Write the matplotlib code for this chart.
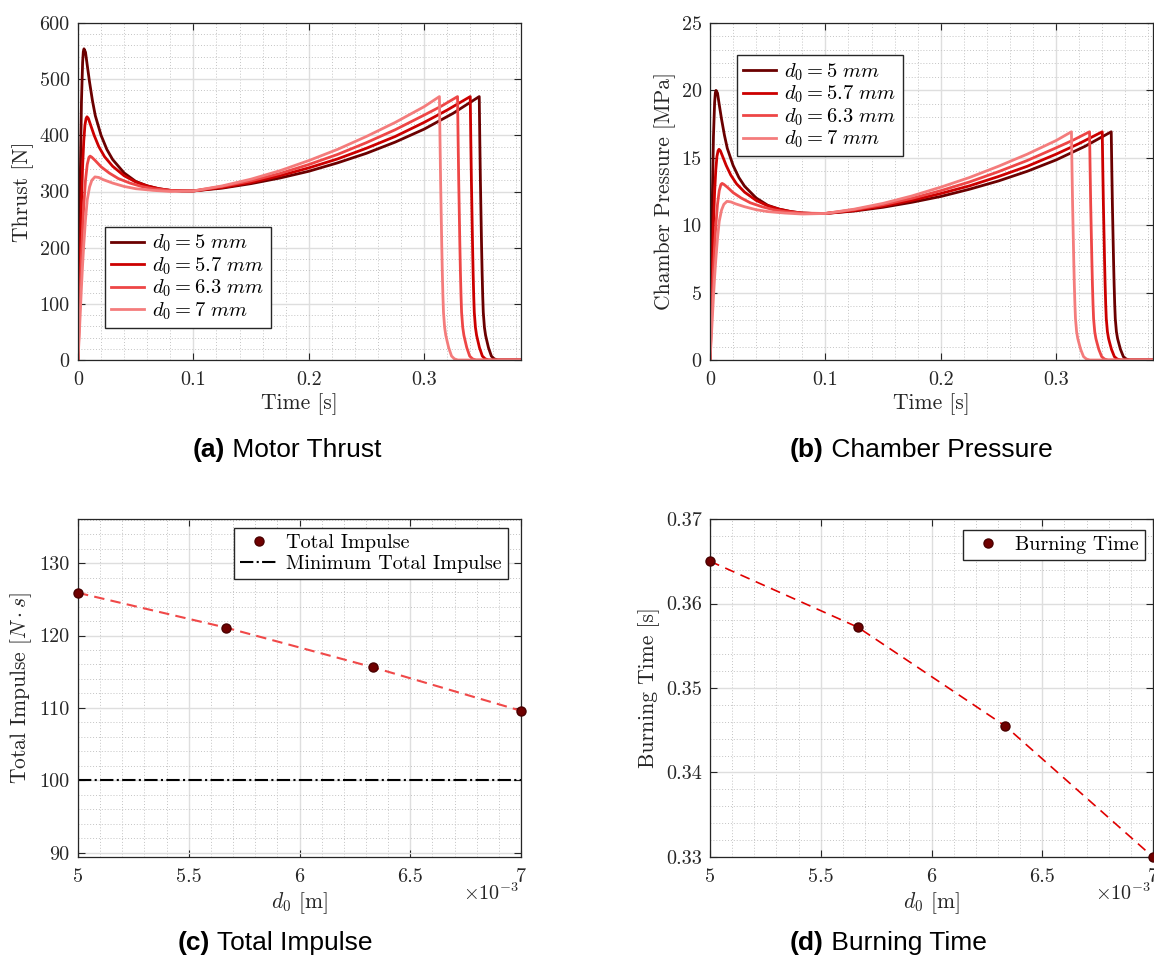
import matplotlib
matplotlib.use('Agg')
import matplotlib.pyplot as plt
from matplotlib.ticker import AutoMinorLocator, FuncFormatter

plt.rcParams['font.family'] = 'serif'
plt.rcParams['font.serif'] = ['cmr10']
plt.rcParams['mathtext.fontset'] = 'cm'
plt.rcParams['axes.formatter.use_mathtext'] = True

# ---- data ----
diameters = ['5', '5.7', '6.3', '7']
line_colors = ['#6b0000', '#cc0000', '#ee4646', '#f47c7c']
t_final = 0.384

# burn phase (up to the end of the web burn)
t_5 = [0, 0.0005, 0.001, 0.002, 0.003, 0.004, 0.0046, 0.0052, 0.0065, 0.008, 0.01, 0.0125,
       0.015, 0.02, 0.025, 0.03, 0.04, 0.05, 0.06, 0.07, 0.08, 0.09, 0.1, 0.125, 0.15, 0.175,
       0.2, 0.225, 0.25, 0.275, 0.3, 0.325, 0.3478]
thrust_5 = [0, 60, 150, 330, 460, 530, 549, 554, 548, 525, 495, 462, 435, 400, 375, 357, 333,
            318, 310, 305, 302, 301, 301, 306, 314, 324, 336, 351, 368, 388, 411, 439, 469]
pressure_5 = [0, 2.17, 5.42, 11.9, 16.6, 19.1, 19.8, 20.0, 19.8, 18.95, 17.87, 16.68, 15.7,
              14.44, 13.54, 12.89, 12.02, 11.48, 11.19, 11.01, 10.9, 10.87, 10.87, 11.05,
              11.33, 11.7, 12.13, 12.67, 13.28, 14.0, 14.84, 15.85, 16.93]

t_57 = [0, 0.001, 0.002, 0.003, 0.004, 0.005, 0.006, 0.007, 0.0078, 0.009, 0.011, 0.014,
        0.018, 0.023, 0.03, 0.04, 0.05, 0.06, 0.07, 0.08, 0.09, 0.1, 0.125, 0.15, 0.175, 0.2,
        0.225, 0.25, 0.275, 0.3, 0.32, 0.34]
thrust_57 = [0, 85, 190, 280, 345, 390, 418, 430, 433, 430, 418, 400, 380, 362, 345, 328, 317,
             310, 305, 302, 301, 301, 307, 316, 328, 342, 358, 377, 398, 423, 445, 469]
pressure_57 = [0, 3.07, 6.86, 10.1, 12.45, 14.08, 15.09, 15.52, 15.63, 15.52, 15.09, 14.44,
               13.72, 13.07, 12.45, 11.84, 11.44, 11.19, 11.01, 10.9, 10.87, 10.87, 11.08,
               11.41, 11.84, 12.35, 12.92, 13.61, 14.37, 15.27, 16.06, 16.93]

t_63 = [0, 0.001, 0.002, 0.003, 0.004, 0.005, 0.0065, 0.008, 0.0095, 0.0105, 0.012, 0.015,
        0.02, 0.027, 0.035, 0.045, 0.055, 0.065, 0.08, 0.1, 0.125, 0.15, 0.175, 0.2, 0.225,
        0.25, 0.275, 0.3, 0.315, 0.329]
thrust_63 = [0, 60, 125, 185, 235, 275, 320, 348, 361, 363, 361, 355, 344, 333, 323, 315, 309,
             305, 302, 301, 309, 319, 332, 348, 366, 387, 410, 436, 452, 469]
pressure_63 = [0, 2.17, 4.51, 6.68, 8.48, 9.93, 11.55, 12.56, 13.03, 13.1, 13.03, 12.82,
               12.42, 12.02, 11.66, 11.37, 11.15, 11.01, 10.9, 10.87, 11.15, 11.52, 11.99,
               12.56, 13.21, 13.97, 14.8, 15.74, 16.32, 16.93]

t_7 = [0, 0.001, 0.002, 0.003, 0.004, 0.005, 0.0065, 0.008, 0.01, 0.012, 0.0147, 0.018,
       0.022, 0.03, 0.04, 0.05, 0.065, 0.08, 0.1, 0.125, 0.15, 0.175, 0.2, 0.225, 0.25, 0.275,
       0.3, 0.3133]
thrust_7 = [0, 40, 85, 130, 170, 205, 250, 285, 308, 320, 326, 325, 321, 315, 309, 305, 302,
            300, 301, 310, 322, 337, 355, 375, 398, 423, 451, 469]
pressure_7 = [0, 1.44, 3.07, 4.69, 6.14, 7.4, 9.03, 10.29, 11.12, 11.55, 11.77, 11.73, 11.59,
              11.37, 11.15, 11.01, 10.9, 10.83, 10.87, 11.19, 11.62, 12.17, 12.82, 13.54,
              14.37, 15.27, 16.28, 16.93]

# tail-off after burnout: time after the last burn point and the values read there
tail_dt = [0.0005, 0.001, 0.0015, 0.002, 0.0025, 0.003, 0.0035, 0.0045, 0.0055, 0.0065,
           0.008, 0.0105, 0.013, 0.016]
tail_thrust = [390, 320, 262, 205, 155, 115, 85, 58, 44, 35, 22, 7, 2, 0]
tail_pressure = [14.08, 11.55, 9.46, 7.4, 5.6, 4.15, 3.07, 2.09, 1.59, 1.26, 0.79, 0.25,
                 0.07, 0]

times = [t_5, t_57, t_63, t_7]
thrusts = [thrust_5, thrust_57, thrust_63, thrust_7]
pressures = [pressure_5, pressure_57, pressure_63, pressure_7]

d0_values = [5e-3, 5.667e-3, 6.333e-3, 7e-3]
total_impulse = [125.9, 121.1, 115.6, 109.6]
min_impulse = 100
burning_time = [0.365, 0.3572, 0.3455, 0.330]

TICK_SIZE = 14.5
LABEL_SIZE = 15.5
EDGE = '#262626'


def full_curve(t, y, tail_y):
    tt = list(t) + [t[-1] + d for d in tail_dt] + [t_final]
    yy = list(y) + list(tail_y) + [0]
    return tt, yy


def style_axes(ax):
    ax.set_axisbelow(True)
    ax.xaxis.set_minor_locator(AutoMinorLocator(5))
    ax.yaxis.set_minor_locator(AutoMinorLocator(5))
    ax.grid(True, which='major', color='#dedede', lw=1.0)
    ax.grid(True, which='minor', color='#c4c4c4', ls=(0, (1, 2)), lw=0.7)
    ax.tick_params(which='major', direction='in', top=True, right=True, length=5, width=0.8,
                   colors=EDGE, labelsize=TICK_SIZE)
    ax.tick_params(axis='x', which='major', pad=8)
    ax.tick_params(axis='y', which='major', pad=6)
    ax.tick_params(which='minor', length=0)
    for s in ax.spines.values():
        s.set_color(EDGE)
        s.set_linewidth(0.9)
    ax.yaxis.set_major_formatter(FuncFormatter(lambda v, p: f'{v:g}'))


def d0_axis(ax):
    ax.set_xlim(5e-3, 7e-3)
    ax.set_xticks([5e-3, 5.5e-3, 6e-3, 6.5e-3, 7e-3])
    ax.xaxis.set_major_formatter(FuncFormatter(lambda v, p: f'{v * 1e3:g}'))
    ax.set_xlabel(r'$d_0$ [m]', fontsize=LABEL_SIZE, color=EDGE, labelpad=3)
    ax.text(0.995, -0.108, r'$\times10^{-3}$', transform=ax.transAxes, ha='right',
            va='center', fontsize=TICK_SIZE, color=EDGE)


def legend(ax, size, hl=1.9, ls=0.15, **kw):
    ax.legend(borderaxespad=0, fancybox=False, framealpha=1, edgecolor=EDGE, fontsize=size,
              handlelength=hl, handletextpad=0.4, borderpad=0.3, labelspacing=ls, **kw)


fig = plt.figure(figsize=(11.54, 9.61), dpi=100)
W, H = 1154, 961


def add_axes(l, r, t, b):
    return fig.add_axes([l / W, 1 - b / H, (r - l) / W, (b - t) / H])


ax_a = add_axes(78, 521, 23, 360)
ax_b = add_axes(710, 1153, 23, 360)
ax_c = add_axes(78, 521, 519, 857)
ax_d = add_axes(710, 1153, 519, 857)

# (a) thrust
for t, f, d, c in zip(times, thrusts, diameters, line_colors):
    tt, ff = full_curve(t, f, tail_thrust)
    ax_a.plot(tt, ff, color=c, lw=2, label=rf'$d_0 = {d}\ mm$')
ax_a.set_xlim(0, t_final)
ax_a.set_ylim(0, 600)
ax_a.set_xticks([0, 0.1, 0.2, 0.3])
ax_a.xaxis.set_major_formatter(FuncFormatter(lambda v, p: f'{v:g}'))
ax_a.set_xlabel('Time [s]', fontsize=LABEL_SIZE, color=EDGE, labelpad=3)
ax_a.set_ylabel('Thrust [N]', fontsize=LABEL_SIZE, color=EDGE, labelpad=4)
style_axes(ax_a)
legend(ax_a, 14.8, hl=1.6, ls=0.05, loc='lower left', bbox_to_anchor=(0.061, 0.095))

# (b) pressure
for t, p, d, c in zip(times, pressures, diameters, line_colors):
    tt, pp = full_curve(t, p, tail_pressure)
    ax_b.plot(tt, pp, color=c, lw=2, label=rf'$d_0 = {d}\ mm$')
ax_b.set_xlim(0, t_final)
ax_b.set_ylim(0, 25)
ax_b.set_xticks([0, 0.1, 0.2, 0.3])
ax_b.xaxis.set_major_formatter(FuncFormatter(lambda v, p: f'{v:g}'))
ax_b.set_xlabel('Time [s]', fontsize=LABEL_SIZE, color=EDGE, labelpad=3)
ax_b.set_ylabel('Chamber Pressure [MPa]', fontsize=LABEL_SIZE, color=EDGE, labelpad=4)
style_axes(ax_b)
legend(ax_b, 14.8, hl=1.6, ls=0.05, loc='upper left', bbox_to_anchor=(0.061, 0.905))

# (c) total impulse
ax_c.plot(d0_values, total_impulse, color='#f04848', lw=1.5, dashes=(5, 3), zorder=2)
ax_c.plot(d0_values, total_impulse, 'o', color='#700000', mec='#4a0000', ms=6.5,
          label='Total Impulse', clip_on=False, zorder=3)
ax_c.axhline(min_impulse, color='black', ls='-.', lw=1.5, label='Minimum Total Impulse')
ax_c.set_ylim(89.4, 136.1)
ax_c.set_yticks([90, 100, 110, 120, 130])
ax_c.set_ylabel(r'Total Impulse $[N \cdot s]$', fontsize=LABEL_SIZE, color=EDGE, labelpad=4)
d0_axis(ax_c)
style_axes(ax_c)
legend(ax_c, 14.5, loc='upper right', bbox_to_anchor=(0.971, 0.973))

# (d) burning time
ax_d.plot(d0_values, burning_time, color='#e00000', lw=1.2, dashes=(6, 4), zorder=2)
ax_d.plot(d0_values, burning_time, 'o', color='#700000', mec='#4a0000', ms=6.5,
          label='Burning Time', clip_on=False, zorder=3)
ax_d.set_ylim(0.33, 0.37)
ax_d.set_yticks([0.33, 0.34, 0.35, 0.36, 0.37])
ax_d.set_ylabel('Burning Time [s]', fontsize=LABEL_SIZE, color=EDGE, labelpad=4)
d0_axis(ax_d)
style_axes(ax_d)
legend(ax_d, 14.5, loc='upper right', bbox_to_anchor=(0.982, 0.967))


# sub-captions: bold tag followed by regular text
def caption(x, y, tag, text):
    t = fig.text(x / W, 1 - y / H, tag, fontweight='bold', family='Liberation Sans',
                 fontsize=19, ha='left', va='center')
    ax_a.annotate(' ' + text, xy=(1, 0.5), xycoords=t, ha='left', va='center',
                  family='Liberation Sans', fontsize=19, annotation_clip=False)


caption(193, 450, '(a)', 'Motor Thrust')
caption(790, 450, '(b)', 'Chamber Pressure')
caption(178, 943, '(c)', 'Total Impulse')
caption(790, 943, '(d)', 'Burning Time')

fig.savefig('out.png', dpi=100)
